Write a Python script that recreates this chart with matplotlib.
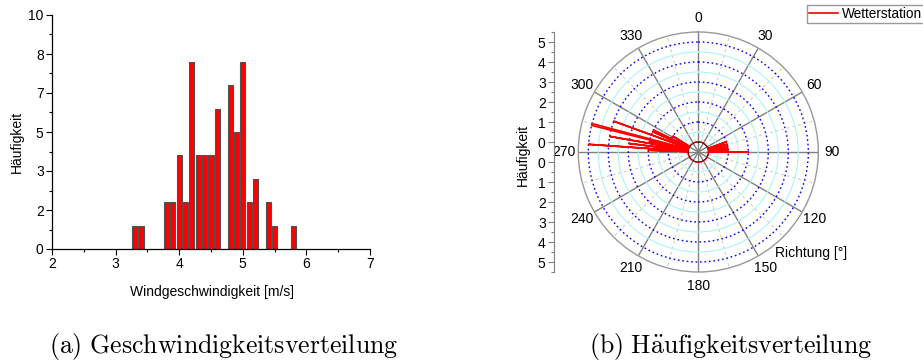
import numpy as np
import matplotlib.pyplot as plt

plt.rcParams['font.family'] = ['Liberation Sans', 'DejaVu Sans']
plt.rcParams['mathtext.fontset'] = 'cm'

# Geschwindigkeitsverteilung (Histogramm)
geschwindigkeit = [3.3, 3.4, 3.8, 3.9, 4.0, 4.1, 4.2, 4.3, 4.4, 4.5, 4.6,
                   4.8, 4.9, 5.0, 5.1, 5.2, 5.4, 5.5, 5.8]
anzahl = [1, 1, 2, 2, 4, 2, 8, 4, 4, 4, 6, 7, 5, 8, 2, 3, 2, 1, 1]

# Windrichtung [Grad] und Haeufigkeit, Ost- und Westsektor
richtung_ost = [69, 70, 71, 74, 75, 76, 79, 80, 81, 83, 84, 85, 86, 87, 88,
                89, 90, 91]
haeufigkeit_ost = [0, 1, 0, 0, 1, 0, 0, 1, 0, 0, 1, 0, 0, 1, 0, 0, 2, 0]
richtung_west = [271, 272, 273, 274, 275, 276, 277, 278, 279, 280, 281, 282,
                 283, 284, 285, 286, 289, 290, 291, 293, 294, 295, 296, 297,
                 301, 302, 303]
haeufigkeit_west = [0, 2, 0, 5, 0, 0, 3, 0, 0, 4, 0, 2, 0, 5, 5, 0, 0, 4, 0,
                    0, 2, 0, 2, 0, 0, 1, 0]

W, H = 923, 360
fig = plt.figure(figsize=(W / 100, H / 100), dpi=100)

# --- (a) Histogramm ---
ax1 = fig.add_axes([52 / W, 1 - 249 / H, 318 / W, 234 / H])
ax1.bar(geschwindigkeit, anzahl, width=0.08, color='#ff0000',
        edgecolor='#505050', linewidth=0.8)
ax1.set_xlim(2, 7)
ax1.set_ylim(0, 10)
ax1.set_xticks(range(2, 8))
ax1.set_xticks(np.arange(2.5, 7, 1), minor=True)
yt = np.linspace(0, 10, 7)
ax1.set_yticks(yt)
ax1.set_yticklabels(['%.0f' % v for v in yt])
ax1.set_yticks((yt[:-1] + yt[1:]) / 2, minor=True)
ax1.spines['top'].set_visible(False)
ax1.spines['right'].set_visible(False)
for s in ['left', 'bottom']:
    ax1.spines[s].set_linewidth(0.9)
ax1.tick_params(which='major', length=4, width=0.8, labelsize=10, pad=2)
ax1.tick_params(which='minor', length=2, width=0.8)
ax1.set_xlabel('Windgeschwindigkeit [m/s]', fontsize=10)
ax1.set_ylabel('Häufigkeit', fontsize=10)
ax1.xaxis.set_label_coords(212 / W, 1 - 285 / H, transform=fig.transFigure)
ax1.yaxis.set_label_coords(24 / W, 1 - 142 / H, transform=fig.transFigure)

# --- (b) Polardiagramm ---
cx, cy, R = 698.3, 152, 120
ax2 = fig.add_axes([(cx - R) / W, (H - cy - R) / H, 2 * R / W, 2 * R / H],
                   projection='polar')
ax2.set_theta_zero_location('N')
ax2.set_theta_direction(-1)
ax2.set_ylim(0, 5.5)
ax2.set_rorigin(-0.5)
winkel = list(range(0, 360, 30))
ax2.set_thetagrids(winkel, labels=[str(a) for a in winkel], fontsize=10)
ax2.set_xticks(np.deg2rad(np.arange(15, 360, 30)), minor=True)
ax2.set_yticks(range(0, 6))
ax2.set_yticks(np.arange(0.5, 5, 1), minor=True)
ax2.set_yticklabels([])
ax2.xaxis.grid(True, which='major', color='#808080', lw=1.0, ls='-')
ax2.xaxis.grid(True, which='minor', color='#c8c8c8', lw=0.7, ls=(0, (3, 3)))
ax2.yaxis.grid(True, which='major', color='#0000ff', lw=1.0, ls=(0, (1.2, 2.0)))
ax2.yaxis.grid(True, which='minor', color='#aaf5f5', lw=0.8, ls='-')
ax2.spines['polar'].set_color('#999999')
ax2.spines['polar'].set_linewidth(1.0)
ax2.spines['inner'].set_visible(False)
ax2.tick_params(axis='x', which='major', length=0, pad=3)
ax2.tick_params(axis='x', which='minor', length=0)
ax2.tick_params(axis='y', which='both', length=0)

# Speichen bis in den Mittelpunkt
for a in winkel:
    ax2.plot([np.deg2rad(a)] * 2, [-0.5, 0], color='#808080', lw=1.0,
             clip_on=False, zorder=1)

kreis = np.linspace(0, 2 * np.pi, 361)
linie, = ax2.plot(kreis, np.zeros_like(kreis), color='#ff0000', lw=1.2,
                  zorder=3)
ax2.plot(np.deg2rad(richtung_ost), haeufigkeit_ost, color='#ff0000', lw=1.2,
         zorder=3)
ax2.plot(np.deg2rad(richtung_west), haeufigkeit_west, color='#ff0000', lw=1.2,
         zorder=3)

# radiale Achse links
ax3 = fig.add_axes([554 / W, (H - cy - R) / H, 0.001, 2 * R / H])
ax3.patch.set_visible(False)
for s in ['top', 'right', 'bottom']:
    ax3.spines[s].set_visible(False)
ax3.spines['left'].set_color('#808080')
ax3.spines['left'].set_linewidth(0.8)
ax3.set_xticks([])
ax3.set_ylim(-6, 6)
werte = np.arange(0, 6)
ax3.set_yticks(np.concatenate([werte + 0.5, -(werte + 0.5)]))
ax3.set_yticklabels([str(v) for v in werte] * 2)
halb = np.arange(1, 7)
ax3.set_yticks(np.concatenate([halb, -halb]), minor=True)
ax3.tick_params(axis='y', which='major', length=4, width=0.8, color='#808080',
                labelsize=10, pad=2)
ax3.tick_params(axis='y', which='minor', length=2, width=0.8, color='#808080')
ax3.set_ylabel('Häufigkeit', fontsize=10)
ax3.yaxis.set_label_coords(529.5 / W, 1 - 155 / H, transform=fig.transFigure)

fig.text(775 / W, 1 - 253 / H, 'Richtung [°]', fontsize=10, ha='left',
         va='center')

fig.legend(handles=[linie], labels=['Wetterstation'], loc='upper left',
           bbox_to_anchor=(807 / W, 1 - 5 / H), fontsize=9.8, frameon=True,
           fancybox=False, edgecolor='#999999', framealpha=1, borderpad=0.15,
           handlelength=2.1, handletextpad=0.35, borderaxespad=0)

# Bildunterschriften
fig.text(224 / W, 1 - 346 / H, r'$\mathrm{(a)\ Geschwindigkeitsverteilung}$',
         fontsize=18.6, ha='center', va='center')
fig.text(731 / W, 1 - 346 / H, r'$\mathrm{(b)\ H\ddot{a}ufigkeitsverteilung}$',
         fontsize=18.6, ha='center', va='center')

fig.savefig('out.png', dpi=100)
